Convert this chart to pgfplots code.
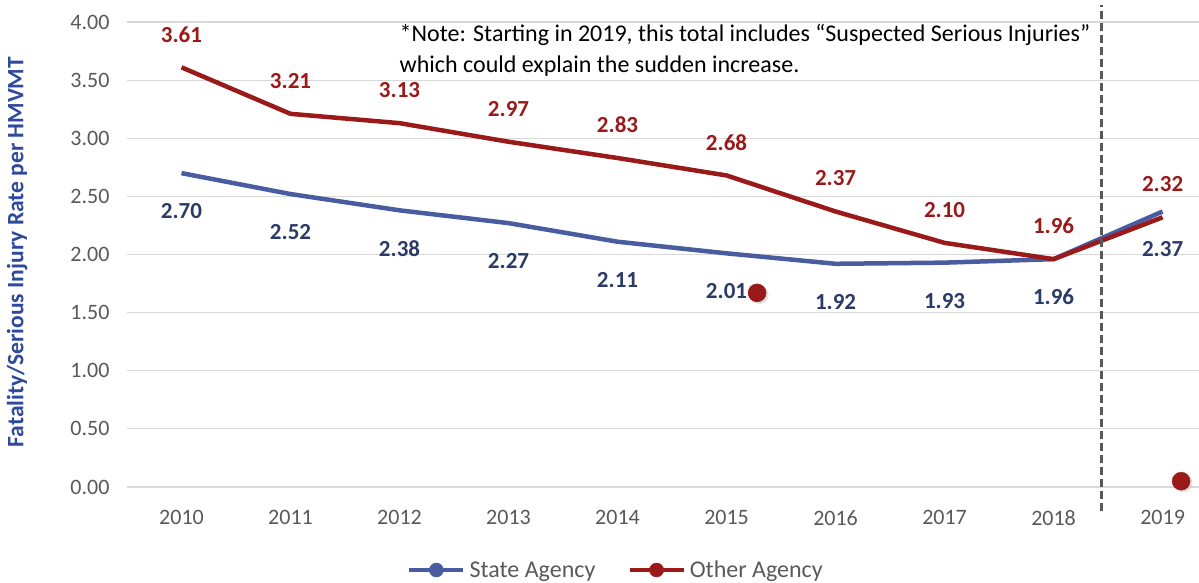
\documentclass[border=0pt]{standalone}
\usepackage{pgfplots}
\pgfplotsset{compat=1.18}
\usepackage{fontspec}
\setmainfont{Carlito}
\definecolor{stateline}{HTML}{4A5CA0}
\definecolor{otherline}{HTML}{9A1A1A}
\definecolor{statelab}{HTML}{2B3A67}
\definecolor{otherlab}{HTML}{9A1A1A}
\definecolor{ticktxt}{HTML}{595959}
\definecolor{gridc}{HTML}{D9D9D9}
\definecolor{ylabc}{HTML}{2F4A9C}
\begin{document}
\begin{tikzpicture}
\path[use as bounding box] (-127pt,-95pt) rectangle (1072pt,487pt);
\begin{axis}[
  at={(0pt,0pt)}, anchor=south west,
  scale only axis, width=1072pt, height=465pt,
  xmin=-0.5, xmax=9.335, ymin=0, ymax=4,
  xtick={0,...,9},
  xticklabels={2010,2011,2012,2013,2014,2015,2016,2017,2018,2019},
  ytick={0,0.5,...,4},
  yticklabel style={/pgf/number format/fixed, /pgf/number format/fixed zerofill, /pgf/number format/precision=2, xshift=-14pt},
  /pgf/number format/assume math mode=true,
  ymajorgrids, grid style={gridc, line width=1.2pt},
  axis line style={draw=none},
  major tick length=0pt,
  tick label style={font=\fontsize{22}{26}\selectfont, text=ticktxt},
  xticklabel style={yshift=-20pt},
  ylabel={Fatality/Serious Injury Rate per HMVMT},
  ylabel style={at={(axis description cs:-0.1026,0.505)}, anchor=center, font=\bfseries\fontsize{23.5}{28}\selectfont, text=ylabc},
  clip=false,
  legend columns=2,
  legend style={at={(axis description cs:0.456,-0.1785)}, anchor=center, draw=none, fill=none,
    font=\fontsize{24}{28}\selectfont, text=ticktxt,
    /tikz/every odd column/.append style={column sep=2pt},
    /tikz/every even column/.append style={column sep=30pt}},
  legend image code/.code={\draw[#1, mark repeat=2, mark phase=2] plot coordinates {(0pt,0pt) (27pt,0pt) (54pt,0pt)};},
  every node near coord/.append style={font=\bfseries\fontsize{23}{27}\selectfont, anchor=center},
]
\addplot[stateline, line width=4.5pt, mark=none, forget plot,
  nodes near coords, point meta=explicit symbolic,
  every node near coord/.append style={text=statelab, yshift=-38pt}]
  coordinates {(0,2.70)[2.70] (1,2.52)[2.52] (2,2.38)[2.38] (3,2.27)[2.27] (4,2.11)[2.11] (5,2.01)[2.01] (6,1.92)[1.92] (7,1.93)[1.93] (8,1.96)[1.96] (9,2.37)[2.37]};
\addplot[otherline, line width=4.5pt, mark=none, forget plot,
  nodes near coords, point meta=explicit symbolic,
  every node near coord/.append style={text=otherlab, yshift=33pt}]
  coordinates {(0,3.61)[3.61] (1,3.21)[3.21] (2,3.13)[3.13] (3,2.97)[2.97] (4,2.83)[2.83] (5,2.68)[2.68] (6,2.37)[2.37] (7,2.10)[2.10] (8,1.96)[1.96] (9,2.32)[2.32]};
% stray markers
\addplot[only marks, mark=*, mark size=9pt, draw=gray!40, mark options={fill=gray!40, draw=gray!40}, opacity=0.6, forget plot] coordinates {(5.30,1.655) (9.19,0.035)};
\addplot[only marks, mark=*, mark size=9pt, color=otherline, mark options={fill=otherline, draw=otherline}, forget plot] coordinates {(5.28,1.67) (9.17,0.05)};
% dashed separator
\addplot[color=ticktxt, line width=2.5pt, dash pattern=on 8pt off 4pt, forget plot] coordinates {(8.44,-0.21) (8.44,4.15)};
% legend entries
\addlegendimage{stateline, line width=4.5pt, mark=*, mark size=7pt, mark options={fill=stateline, line width=0.5pt}}
\addlegendentry{State Agency}
\addlegendimage{otherline, line width=4.5pt, mark=*, mark size=7pt, mark options={fill=otherline, line width=0.5pt}}
\addlegendentry{Other Agency}
\node[anchor=north west, align=left, font=\fontsize{24}{31}\selectfont, inner sep=0pt] at (axis cs:2.0,3.985) {*Note: Starting in 2019, this total includes “Suspected Serious Injuries”\\which could explain the sudden increase.};
\end{axis}
\end{tikzpicture}
\end{document}
